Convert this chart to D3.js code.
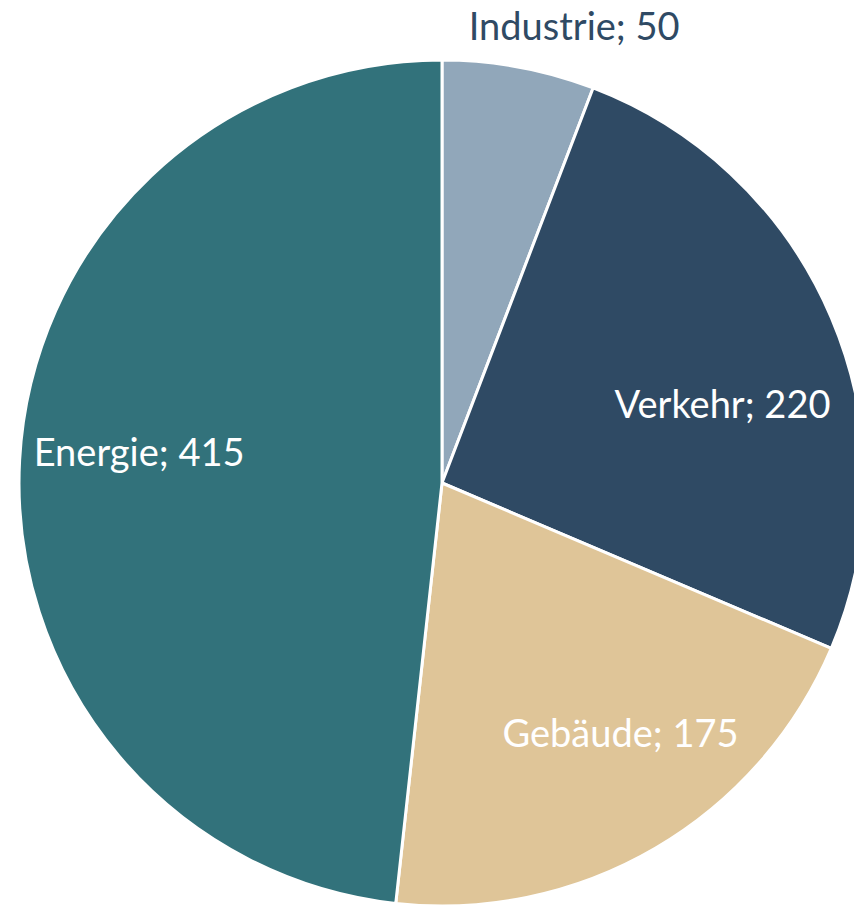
<!DOCTYPE html>
<html><head><meta charset="utf-8">
<script src="https://cdn.jsdelivr.net/npm/d3@7"></script>
<style>html,body{margin:0;padding:0;background:#fff;}</style>
</head><body>
<svg id="c" width="854" height="905"></svg>
<script>
const categories = ["Industrie", "Verkehr", "Gebäude", "Energie"];
const values = [50, 220, 175, 415];
const colors = ["#91A7BA", "#2F4A64", "#DFC598", "#32727B"];
const labelColors = ["#2F4A64", "#ffffff", "#ffffff", "#ffffff"];
// label placement (layout): polar angle in degrees from top, radius factor
const labelLayout = [
  {ang: 16.1, rf: 1.127},
  {ang: 74, rf: 0.69},
  {ang: 144.4, rf: 0.725},
  {ang: 276, rf: 0.72}
];

const cx = 442, cy = 483, R = 423;
const svg = d3.select("#c");
const g = svg.append("g").attr("transform", `translate(${cx},${cy})`);
const data = categories.map((c, i) => ({name: c, value: values[i], i}));
const pie = d3.pie().value(d => d.value).sort(null);
const arc = d3.arc().innerRadius(0).outerRadius(R);
const arcs = pie(data);
g.selectAll("path").data(arcs).join("path")
  .attr("d", arc)
  .attr("fill", d => colors[d.data.i])
  .attr("stroke", "#fff").attr("stroke-width", 3).attr("stroke-linejoin", "round");

g.selectAll("text").data(arcs).join("text")
  .attr("x", d => { const L = labelLayout[d.data.i]; return Math.sin(L.ang*Math.PI/180)*R*L.rf; })
  .attr("y", d => { const L = labelLayout[d.data.i]; return -Math.cos(L.ang*Math.PI/180)*R*L.rf; })
  .attr("text-anchor", "middle").attr("dominant-baseline", "central")
  .attr("font-family", "Lato, 'Open Sans', sans-serif").attr("font-size", 38)
  .attr("fill", d => labelColors[d.data.i])
  .text(d => `${d.data.name}; ${d.data.value}`);
</script>
</body></html>
